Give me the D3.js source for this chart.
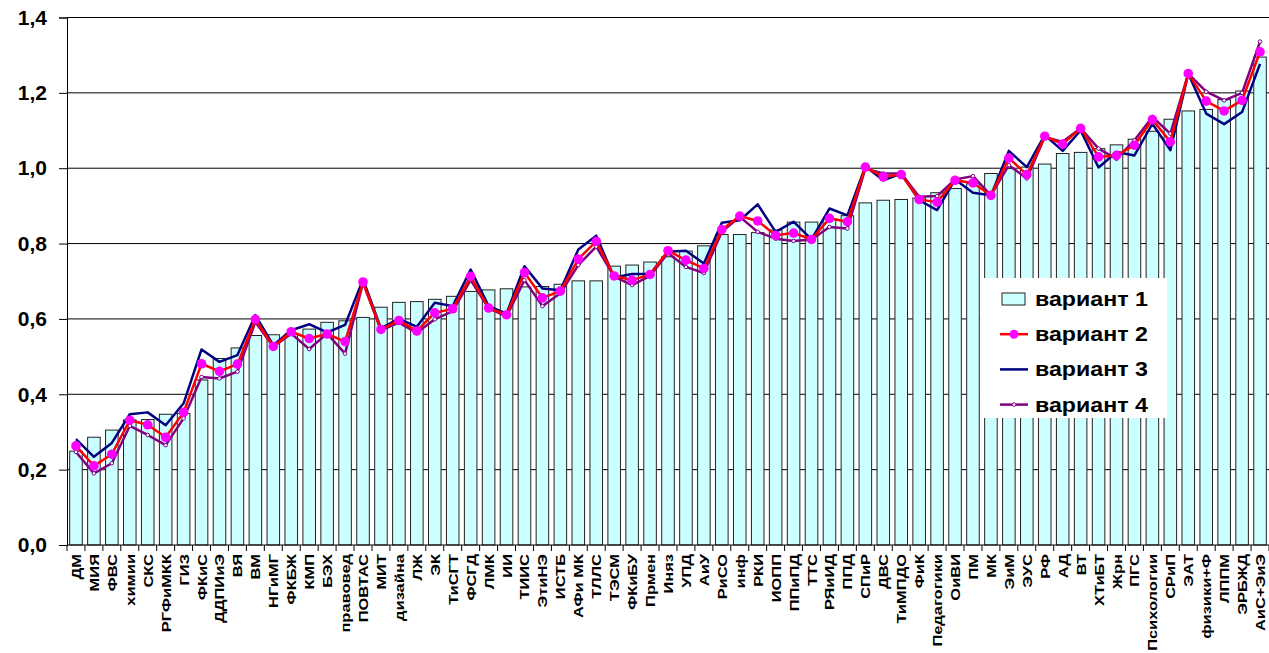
<!DOCTYPE html>
<html><head><meta charset="utf-8">
<script src="https://cdn.jsdelivr.net/npm/d3@7"></script>
<style>body{margin:0;background:#fff;} svg{display:block;font-family:"Liberation Sans",Arial,sans-serif;}</style>
</head><body>
<svg id="c" width="1269" height="653"></svg>
<script>
const categories = ["ДМ","МИЯ","ФВС","химии","СКС","РГФиМКК","ГИЗ","ФКиС","ДДПИиЭ","ВЯ","ВМ","НГиМГ","ФКБЖ","КМП","БЭХ","правовед","ПОВТАС","МИТ","дизайна","ЛЖ","ЭК","ТиСГТ","ФСГД","ЛМК","ИИ","ТИИС","ЭтиНЭ","ИСТБ","АФи МК","ТЛЛС","ТЭСМ","ФКиБУ","Прмен","Иняз","УПД","АиУ","РиСО","инф","РКИ","ИОПП","ППиПД","ТТС","РЯиИД","ППД","СПиР","ДВС","ТиМПДО","ФиК","Педагогики","ОиВИ","ПМ","МК","ЭиМ","ЭУС","РФ","АД","ВТ","ХТиБТ","Жрн","ПГС","Психологии","СРиП","ЭАТ","физики+Ф","ЛППМ","ЭРБЖД","АиС+ЭиЭ"];
const variant1 = [0.249,0.286,0.305,0.332,0.333,0.347,0.349,0.438,0.495,0.523,0.556,0.558,0.560,0.573,0.591,0.595,0.604,0.631,0.644,0.646,0.652,0.660,0.673,0.677,0.680,0.685,0.686,0.692,0.701,0.701,0.740,0.743,0.751,0.765,0.780,0.794,0.824,0.824,0.829,0.836,0.857,0.857,0.866,0.874,0.908,0.915,0.917,0.921,0.935,0.946,0.959,0.986,0.999,1.003,1.011,1.039,1.042,1.052,1.062,1.077,1.098,1.130,1.152,1.156,1.182,1.205,1.295];
const variant2 = [0.263,0.210,0.241,0.331,0.319,0.286,0.352,0.481,0.461,0.480,0.599,0.527,0.566,0.548,0.560,0.540,0.698,0.572,0.596,0.568,0.616,0.627,0.713,0.629,0.611,0.723,0.656,0.674,0.759,0.806,0.714,0.703,0.718,0.781,0.756,0.734,0.837,0.873,0.860,0.822,0.828,0.811,0.867,0.858,1.003,0.977,0.983,0.917,0.910,0.968,0.961,0.928,1.027,0.983,1.085,1.064,1.106,1.030,1.034,1.061,1.129,1.070,1.251,1.178,1.152,1.180,1.309];
const variant3 = [0.281,0.234,0.271,0.347,0.352,0.318,0.376,0.519,0.486,0.504,0.610,0.530,0.570,0.586,0.564,0.584,0.705,0.575,0.601,0.579,0.643,0.634,0.731,0.634,0.614,0.740,0.681,0.676,0.784,0.821,0.710,0.719,0.719,0.778,0.781,0.747,0.855,0.862,0.904,0.831,0.858,0.811,0.893,0.875,1.005,0.968,0.986,0.915,0.889,0.970,0.935,0.928,1.046,1.003,1.088,1.046,1.100,1.002,1.043,1.034,1.118,1.048,1.251,1.145,1.117,1.149,1.277];
const variant4 = [0.247,0.190,0.217,0.316,0.292,0.265,0.336,0.446,0.442,0.460,0.592,0.526,0.561,0.520,0.561,0.508,0.696,0.570,0.590,0.563,0.599,0.621,0.703,0.628,0.607,0.703,0.634,0.668,0.743,0.792,0.712,0.690,0.714,0.775,0.738,0.722,0.831,0.871,0.831,0.813,0.807,0.811,0.844,0.840,0.999,0.986,0.986,0.924,0.926,0.970,0.979,0.928,1.008,0.973,1.083,1.070,1.106,1.052,1.025,1.074,1.136,1.092,1.251,1.203,1.180,1.200,1.336];
const yTicks = [0,0.2,0.4,0.6,0.8,1.0,1.2,1.4];
const seriesNames = ["вариант 1","вариант 2","вариант 3","вариант 4"];

const svg = d3.select("#c");
const L = 67, R = 1269, T = 17.5, B = 545;
const x = d3.scaleBand().domain(categories).range([L, R]).paddingInner(0.3).paddingOuter(0.15);
const y = d3.scaleLinear().domain([0, 1.4]).range([B, T]);
const fmt = v => d3.format(".1f")(v).replace(".", ",");

// gridlines
svg.append("g").selectAll("line").data(yTicks.filter(d => d > 0)).join("line")
  .attr("x1", L).attr("x2", R).attr("y1", d => y(d)).attr("y2", d => y(d))
  .attr("stroke", "#000").attr("stroke-width", 1);

// bars
svg.append("g").selectAll("rect").data(variant1).join("rect")
  .attr("x", (d, i) => x(categories[i])).attr("width", x.bandwidth())
  .attr("y", d => y(d)).attr("height", d => y(0) - y(d))
  .attr("fill", "#CCFFFF").attr("stroke", "#222").attr("stroke-width", 1);

// y axis
const ya = svg.append("g").attr("transform", `translate(${L},0)`)
  .call(d3.axisLeft(y).tickValues(yTicks).tickFormat(fmt).tickSize(8).tickPadding(12));
ya.select(".domain").attr("stroke", "#000");
ya.selectAll("line").attr("stroke", "#000");
ya.selectAll("text").attr("font-size", 21).attr("font-weight", "bold").attr("fill", "#000")
  .attr("font-family", "Liberation Sans, Arial, sans-serif");

// x axis
const step = x.step();
const xa = svg.append("g").attr("transform", `translate(0,${B})`);
xa.append("line").attr("x1", L).attr("x2", R).attr("stroke", "#000");
xa.selectAll(".tk").data(d3.range(categories.length + 1)).join("line")
  .attr("x1", i => L + i * step).attr("x2", i => L + i * step)
  .attr("y1", 0).attr("y2", 6).attr("stroke", "#000");
xa.selectAll("text").data(categories).join("text")
  .attr("transform", d => `translate(${x(d) + x.bandwidth() / 2 + 5},9) rotate(-90) scale(1.22,1)`)
  .attr("text-anchor", "end").attr("font-size", 13.5).attr("font-weight", "bold")
  .text(d => d);

// lines
const cx = i => x(categories[i]) + x.bandwidth() / 2;
const line = d3.line().x((d, i) => cx(i)).y(d => y(d));
function drawLine(data, color, w) {
  svg.append("path").datum(data).attr("d", line).attr("fill", "none")
    .attr("stroke", color).attr("stroke-width", w).attr("stroke-linejoin", "round");
}
drawLine(variant3, "#000080", 2.5);
drawLine(variant4, "#800080", 2.5);
svg.append("g").selectAll("circle").data(variant4).join("circle")
  .attr("cx", (d, i) => cx(i)).attr("cy", d => y(d)).attr("r", 1.8)
  .attr("fill", "#fff").attr("stroke", "#800080").attr("stroke-width", 1);
drawLine(variant2, "#FF0000", 2.5);
svg.append("g").selectAll("circle").data(variant2).join("circle")
  .attr("cx", (d, i) => cx(i)).attr("cy", d => y(d)).attr("r", 4.8)
  .attr("fill", "#FF00FF");

// legend
const lg = svg.append("g").attr("transform", "translate(980,278)");
lg.append("rect").attr("width", 187).attr("height", 140).attr("fill", "#fff");
seriesNames.forEach((n, i) => {
  const yy = 21 + i * 35.2;
  if (i === 0) {
    lg.append("rect").attr("x", 22).attr("y", yy - 6).attr("width", 23).attr("height", 12)
      .attr("fill", "#CCFFFF").attr("stroke", "#222");
  } else {
    const col = ["", "#FF0000", "#000080", "#800080"][i];
    lg.append("line").attr("x1", 20).attr("x2", 48).attr("y1", yy).attr("y2", yy)
      .attr("stroke", col).attr("stroke-width", 2.5);
    if (i === 1) lg.append("circle").attr("cx", 34).attr("cy", yy).attr("r", 4.5).attr("fill", "#FF00FF");
    if (i === 3) lg.append("circle").attr("cx", 34).attr("cy", yy).attr("r", 1.8).attr("fill", "#fff").attr("stroke", "#800080");
  }
  lg.append("text").attr("transform", `translate(55,${yy + 7}) scale(1.16,1)`)
    .attr("font-size", 20).attr("font-weight", "bold").text(n);
});
</script>
</body></html>
